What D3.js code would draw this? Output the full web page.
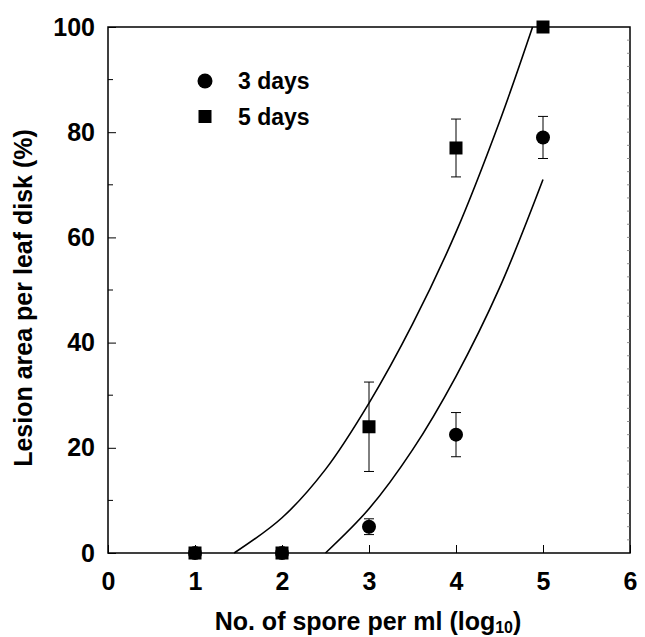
<!DOCTYPE html>
<html>
<head>
<meta charset="utf-8">
<script src="https://cdn.jsdelivr.net/npm/d3@7"></script>
<style>
  body { margin: 0; background: #fff; }
  text { font-family: "Liberation Sans", Arial, sans-serif; font-weight: bold; fill: #000; }
</style>
</head>
<body>
<div id="app"></div>
<script>
// data
const doses = [1, 2, 3, 4, 5];
const day3 = [0, 0, 5, 22.5, 79];
const day3Err = [0, 0, 1.5, 4.2, 4];
const day5 = [0, 0, 24, 77, 100];
const day5Err = [0, 0, 8.5, 5.5, 0];
// fitted curves
const fit5 = [[1.45, 0], [2, 6.7], [2.5, 15.9], [3, 28.5], [3.5, 43.5], [4, 61], [4.5, 82], [4.88, 100]];
const fit3 = [[2.5, 0], [3, 8.4], [3.5, 19.6], [4, 33.6], [4.5, 50.4], [5, 71]];
const xTicks = [0, 1, 2, 3, 4, 5, 6];
const yTicks = [0, 20, 40, 60, 80, 100];
const yMinor = [10, 30, 50, 70, 90];
const seriesNames = ['3 days', '5 days'];

const width = 645;
const height = 637;
const margin = { left: 108, right: 15, top: 27, bottom: 84 };

const svg = d3.select('#app').append('svg')
  .attr('width', width)
  .attr('height', height);

const x = d3.scaleLinear().domain([0, 6]).range([margin.left, width - margin.right]);
const y = d3.scaleLinear().domain([0, 100]).range([height - margin.bottom, margin.top]);

// frame
svg.append('rect')
  .attr('x', x(0)).attr('y', y(100))
  .attr('width', x(6) - x(0)).attr('height', y(0) - y(100))
  .attr('fill', 'none').attr('stroke', '#000').attr('stroke-width', 1.5);

// inward ticks
const xAxis = svg.append('g')
  .attr('transform', `translate(0,${y(0)})`)
  .call(d3.axisBottom(x).tickValues(xTicks).tickFormat(d3.format('d')).tickSizeInner(-8).tickSizeOuter(0).tickPadding(19));
xAxis.select('.domain').remove();
xAxis.selectAll('text').attr('font-size', 25).attr('dy', '0.71em');

const yAxis = svg.append('g')
  .attr('transform', `translate(${x(0)},0)`)
  .call(d3.axisLeft(y).tickValues(yTicks).tickSizeInner(-8).tickSizeOuter(0).tickPadding(13));
yAxis.select('.domain').remove();
yAxis.selectAll('text').attr('font-size', 25);

svg.append('g').selectAll('line').data(yMinor).join('line')
  .attr('x1', x(0)).attr('x2', x(0) + 5)
  .attr('y1', d => y(d)).attr('y2', d => y(d))
  .attr('stroke', '#000');

svg.append('g').selectAll('line').data(d3.range(2.5, 100, 2.5)).join('line')
  .attr('x1', x(6)).attr('x2', x(6) - 3)
  .attr('y1', d => y(d)).attr('y2', d => y(d))
  .attr('stroke', '#777').attr('stroke-width', 0.8);

// fitted curves
const line = d3.line().x(d => x(d[0])).y(d => y(d[1])).curve(d3.curveCatmullRom);
[fit5, fit3].forEach(f => {
  svg.append('path').datum(f)
    .attr('d', line)
    .attr('fill', 'none').attr('stroke', '#000').attr('stroke-width', 1.6);
});

// error bars
const drawErr = (vals, errs) => {
  const g = svg.append('g').attr('stroke', '#000').attr('stroke-width', 1);
  doses.forEach((d, i) => {
    if (!errs[i]) return;
    const cx = x(d);
    const lo = y(vals[i] - errs[i]);
    const hi = y(vals[i] + errs[i]);
    g.append('line').attr('x1', cx).attr('x2', cx).attr('y1', lo).attr('y2', hi);
    g.append('line').attr('x1', cx - 5).attr('x2', cx + 5).attr('y1', lo).attr('y2', lo);
    g.append('line').attr('x1', cx - 5).attr('x2', cx + 5).attr('y1', hi).attr('y2', hi);
  });
};
drawErr(day3, day3Err);
drawErr(day5, day5Err);

// markers
svg.append('g').selectAll('circle').data(doses).join('circle')
  .attr('cx', d => x(d))
  .attr('cy', (d, i) => y(day3[i]))
  .attr('r', 7);

svg.append('g').selectAll('rect').data(doses).join('rect')
  .attr('x', d => x(d) - 6.5)
  .attr('y', (d, i) => y(day5[i]) - 6.5)
  .attr('width', 13).attr('height', 13);

// legend
const legend = svg.append('g').attr('transform', 'translate(205,0)');
legend.append('circle').attr('cx', 0).attr('cy', 81).attr('r', 7.5);
legend.append('rect').attr('x', -6.5).attr('y', 110).attr('width', 13).attr('height', 13);
legend.selectAll('text').data(seriesNames).join('text')
  .attr('x', 33)
  .attr('y', (d, i) => 81 + i * 36)
  .attr('dy', '0.35em')
  .attr('font-size', 23)
  .text(d => d);

// axis titles
const xTitle = svg.append('text')
  .attr('x', (x(0) + x(6)) / 2 - 1)
  .attr('y', 630)
  .attr('text-anchor', 'middle')
  .attr('font-size', 25);
xTitle.append('tspan').text('No. of spore per ml (log');
xTitle.append('tspan').attr('font-size', 16).attr('dy', 3).text('10');
xTitle.append('tspan').attr('dy', -3).text(')');

svg.append('text')
  .attr('transform', `translate(32,298) rotate(-90)`)
  .attr('text-anchor', 'middle')
  .attr('font-size', 25)
  .text('Lesion area per leaf disk (%)');
</script>
</body>
</html>
